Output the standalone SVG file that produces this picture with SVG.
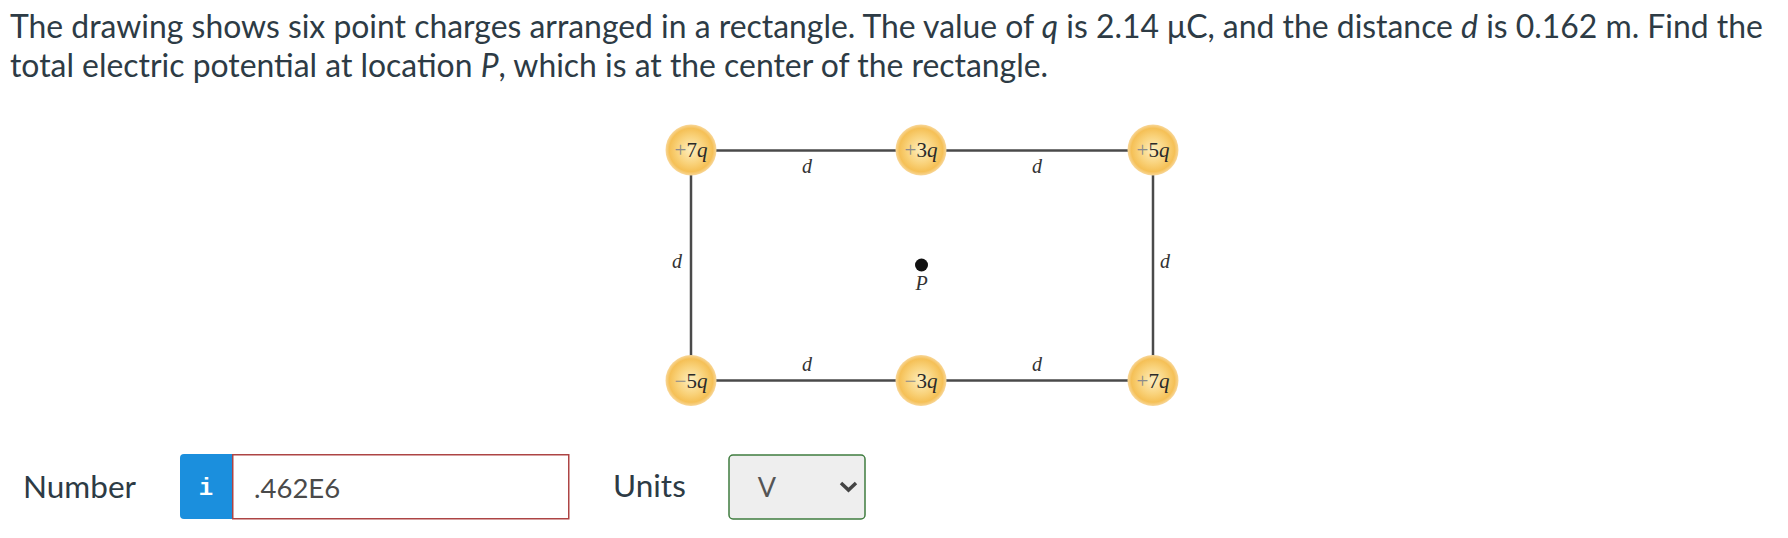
<svg xmlns="http://www.w3.org/2000/svg" width="1788" height="538" viewBox="0 0 1788 538">
<defs>
<radialGradient id="ball" cx="50%" cy="50%" r="50%">
<stop offset="0%" stop-color="#fdeebe"/>
<stop offset="55%" stop-color="#f9d27a"/>
<stop offset="85%" stop-color="#f5c056"/>
<stop offset="100%" stop-color="#f8d79a"/>
</radialGradient>
</defs>
<style>
.q{font-family:Lato,"Open Sans",sans-serif;font-size:31.9px;fill:#2d3b45}
.it{font-style:italic}
.line{stroke:#4a4a4a;stroke-width:2.5;fill:none}
.ball{fill:url(#ball)}
.lbl{font-family:"Liberation Serif","DejaVu Serif",serif;font-size:21px;fill:#2a2a2a;text-anchor:middle}
.sg{fill:#8a8a8a}
.dl{font-family:"Liberation Serif","DejaVu Serif",serif;font-style:italic;font-size:20px;fill:#333;text-anchor:middle}
.form{font-family:Lato,"Open Sans",sans-serif;font-size:31.5px;fill:#2d3b45}
</style>
<rect width="1788" height="538" fill="#ffffff"/>
<g id="question">
<text class="q" x="10" y="38">The drawing shows six point charges arranged in a rectangle. The value of <tspan class="it">q</tspan> is 2.14 μC, and the distance <tspan class="it">d</tspan> is 0.162 m. Find the</text>
<text class="q" x="10" y="77">total electric potential at location <tspan class="it">P</tspan>, which is at the center of the rectangle.</text>
</g>
<g id="connectors">
<line class="line" x1="691" y1="150.5" x2="1153" y2="150.5"/>
<line class="line" x1="691" y1="380.5" x2="1153" y2="380.5"/>
<line class="line" x1="691" y1="150.5" x2="691" y2="380.5"/>
<line class="line" x1="1153" y1="150.5" x2="1153" y2="380.5"/>
<text class="dl" x="807" y="173">d</text>
<text class="dl" x="1037" y="173">d</text>
<text class="dl" x="807" y="371">d</text>
<text class="dl" x="1037" y="371">d</text>
<text class="dl" x="677" y="268">d</text>
<text class="dl" x="1165" y="268">d</text>
</g>
<g id="charge-tl">
<circle class="ball" cx="691" cy="150" r="25.5"/>
<text class="lbl" x="691" y="157"><tspan class="sg">+</tspan>7<tspan font-style="italic">q</tspan></text>
</g>
<g id="charge-tm">
<circle class="ball" cx="921" cy="150" r="25.5"/>
<text class="lbl" x="921" y="157"><tspan class="sg">+</tspan>3<tspan font-style="italic">q</tspan></text>
</g>
<g id="charge-tr">
<circle class="ball" cx="1153" cy="150" r="25.5"/>
<text class="lbl" x="1153" y="157"><tspan class="sg">+</tspan>5<tspan font-style="italic">q</tspan></text>
</g>
<g id="charge-bl">
<circle class="ball" cx="691" cy="380.5" r="25.5"/>
<text class="lbl" x="691" y="387.5"><tspan class="sg">−</tspan>5<tspan font-style="italic">q</tspan></text>
</g>
<g id="charge-bm">
<circle class="ball" cx="921" cy="380.5" r="25.5"/>
<text class="lbl" x="921" y="387.5"><tspan class="sg">−</tspan>3<tspan font-style="italic">q</tspan></text>
</g>
<g id="charge-br">
<circle class="ball" cx="1153" cy="380.5" r="25.5"/>
<text class="lbl" x="1153" y="387.5"><tspan class="sg">+</tspan>7<tspan font-style="italic">q</tspan></text>
</g>
<g id="point-P">
<circle cx="921.5" cy="265" r="6.5" fill="#111"/>
<text class="dl" x="921.5" y="290" font-size="19">P</text>
</g>
<g id="answer-form">
<text class="form" x="23" y="498">Number</text>
<path d="M184,454 H232 V519 H184 Q180,519 180,515 V458 Q180,454 184,454 Z" fill="#1b8fdd"/>
<text x="206" y="495" font-family="'Liberation Mono','DejaVu Sans Mono',monospace" font-weight="bold" font-size="24" fill="#ffffff" text-anchor="middle">i</text>
<rect x="232.75" y="454.75" width="336" height="64" fill="#ffffff" stroke="#ad4444" stroke-width="1.5"/>
<text x="254" y="498" font-family="Lato,'Open Sans',sans-serif" font-size="27.5" fill="#4a4a4a">.462E6</text>
<text class="form" x="613" y="497">Units</text>
<rect x="729" y="455" width="136" height="64" rx="4" fill="#eeeeee" stroke="#3f7c3f" stroke-width="1.5"/>
<text x="767" y="497" font-family="Lato,'Open Sans',sans-serif" font-size="27" fill="#555555" text-anchor="middle">V</text>
<polyline points="841,483 848.5,490 856,483" fill="none" stroke="#444444" stroke-width="3.5"/>
</g>
</svg>
